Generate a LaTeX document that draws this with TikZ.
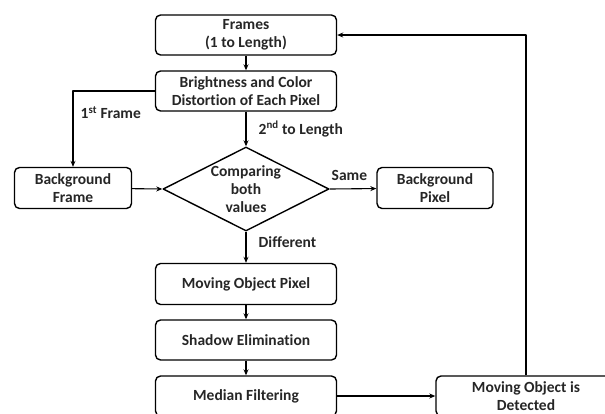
\documentclass[tikz,border=0pt]{standalone}
\usepackage{fontspec}
\setmainfont[Ligatures=NoCommon]{Carlito}
\usetikzlibrary{shapes.geometric,arrows.meta}
\begin{document}
\begin{tikzpicture}[x=1pt, y=-1pt, line join=round, line width=1.4pt,
		every node/.style={font=\bfseries\fontsize{15.5}{18}\selectfont, align=center, text=black!85},
		stepbox/.style={draw, rounded corners=5pt, minimum width=181pt, minimum height=40pt, inner sep=0pt},
		sidebox/.style={stepbox, minimum width=117pt, minimum height=41pt},
		flow/.style={-{Stealth[length=6pt,width=5pt]}, line width=1.1pt},
		lbl/.style={anchor=west, inner sep=0pt}]
	\useasboundingbox (0,0) rectangle (605,413);
	\pgfmathsetmacro\cx{246}
	% main column
	\node[stepbox] (frames) at (\cx,35) {Frames\\(1 to Length)};
	\node[stepbox] (bright) at (\cx,91) {Brightness and Color\\Distortion of Each Pixel};
	\node[draw, diamond, minimum width=166pt, minimum height=84pt, inner sep=0pt] (cmp) at (\cx,189) {};
	\node (cmptext) at (cmp.center) {Comparing\\both\\values};
	\node[stepbox, minimum height=41pt] (mop) at (\cx,284) {Moving Object Pixel};
	\node[stepbox] (shadow) at (\cx,340) {Shadow Elimination};
	\node[stepbox] (median) at (\cx,396) {Median Filtering};
	% side boxes
	\node[sidebox] (bgframe) at (73,188) {Background\\Frame};
	\node[sidebox, minimum width=116pt] (bgpixel) at (435,188) {Background\\Pixel};
	\node[stepbox, minimum width=180pt] (detected) at (526,396) {Moving Object is\\Detected};
	% connectors
	\draw[flow] (frames) -- (bright);
	\draw[flow] (bright.west) -| (bgframe.north);
	\draw[flow] (bright) -- (cmp.north);
	\draw[flow] (bgframe) -- (cmp.west);
	\draw[flow] (cmp.east) -- (bgpixel);
	\draw[flow] (cmp.south) -- (mop);
	\draw[flow] (mop) -- (shadow);
	\draw[flow] (shadow) -- (median);
	\draw[flow] (median) -- (detected);
	\draw[flow] (detected.north) |- (frames.east);
	% labels
	\node[lbl] (first) at (80,113) {1\textsuperscript{st} Frame};
	\node[lbl] (rest) at (258,129) {2\textsuperscript{nd} to Length};
	\node[lbl] (same) at (331,175) {Same};
	\node[lbl] (diff) at (258,242) {Different};
\end{tikzpicture}
\end{document}
